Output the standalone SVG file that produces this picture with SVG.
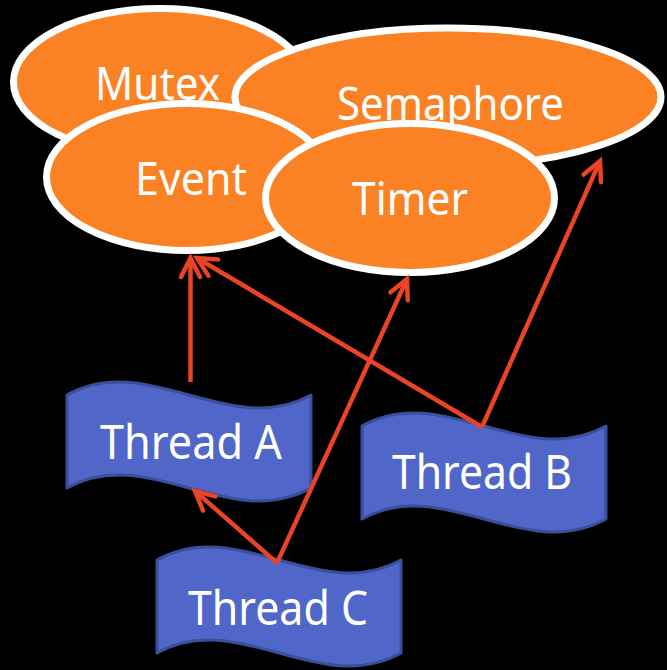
<svg xmlns="http://www.w3.org/2000/svg" width="667" height="670" viewBox="0 0 667 670">
  <defs>
    <style>
      .sync { fill: #FB8224; stroke: #FFFFFF; stroke-width: 7; }
      .sync-label { font-family: "Noto Sans", "Open Sans", sans-serif; font-size: 46px; fill: #FFFFFF; text-anchor: middle; }
      .thread { fill: #5067C9; stroke: #3A4F99; stroke-width: 3; stroke-linejoin: round; }
      .thread-label { font-family: "Noto Sans", "Open Sans", sans-serif; font-size: 48px; fill: #FFFFFF; text-anchor: middle; }
      .link { fill: none; stroke: #EA4326; stroke-width: 4.5; stroke-linecap: butt; }
    </style>
    <marker id="open-arrow" markerUnits="userSpaceOnUse" orient="auto" refX="0" refY="0" markerWidth="40" markerHeight="40" overflow="visible">
      <path d="M-19,-9.5 L0,0 L-19,9.5" fill="none" stroke="#EA4326" stroke-width="4.5" stroke-linecap="round" stroke-linejoin="miter"/>
    </marker>
  </defs>

  <rect x="0" y="0" width="667" height="670" fill="#000000"/>

  <!-- synchronisation objects -->
  <g id="mutex">
    <ellipse class="sync" cx="160" cy="82" rx="146.5" ry="73.5"/>
    <text class="sync-label" x="157.5" y="100" textLength="125" lengthAdjust="spacingAndGlyphs">Mutex</text>
  </g>
  <g id="semaphore">
    <ellipse class="sync" cx="448" cy="97" rx="213" ry="69"/>
    <text class="sync-label" x="450.5" y="120" textLength="227" lengthAdjust="spacingAndGlyphs">Semaphore</text>
  </g>
  <g id="event">
    <ellipse class="sync" cx="187" cy="177" rx="140.5" ry="73.5"/>
    <text class="sync-label" x="191" y="195" textLength="112" lengthAdjust="spacingAndGlyphs">Event</text>
  </g>
  <g id="timer">
    <ellipse class="sync" cx="410" cy="198" rx="144.5" ry="74.5"/>
    <text class="sync-label" x="410" y="215" textLength="116" lengthAdjust="spacingAndGlyphs">Timer</text>
  </g>

  <!-- threads (wave banners) -->
  <g id="thread-a">
    <path class="thread" d="M67,395 C148,350 230,440 311,395 L311,488 C230,533 148,443 67,488 Z"/>
    <text class="thread-label" x="191" y="459" textLength="182" lengthAdjust="spacingAndGlyphs">Thread A</text>
  </g>
  <g id="thread-b">
    <path class="thread" d="M362,426 C443,381 525,471 606,426 L606,519 C525,564 443,474 362,519 Z"/>
    <text class="thread-label" x="482" y="489" textLength="180" lengthAdjust="spacingAndGlyphs">Thread B</text>
  </g>
  <g id="thread-c">
    <path class="thread" d="M157,560 C238,515 320,605 401,560 L401,653 C320,698 238,608 157,653 Z"/>
    <text class="thread-label" x="278" y="625" textLength="180" lengthAdjust="spacingAndGlyphs">Thread C</text>
  </g>

  <!-- connectors -->
  <g id="connectors">
    <line class="link" x1="190.5" y1="382" x2="190.5" y2="258" marker-end="url(#open-arrow)"/>
    <line class="link" x1="482" y1="427" x2="197" y2="258" marker-end="url(#open-arrow)"/>
    <line class="link" x1="482" y1="427" x2="600" y2="161" marker-end="url(#open-arrow)"/>
    <line class="link" x1="277" y1="563" x2="407" y2="279" marker-end="url(#open-arrow)"/>
    <line class="link" x1="277" y1="563" x2="195" y2="491" marker-end="url(#open-arrow)"/>
  </g>
</svg>
